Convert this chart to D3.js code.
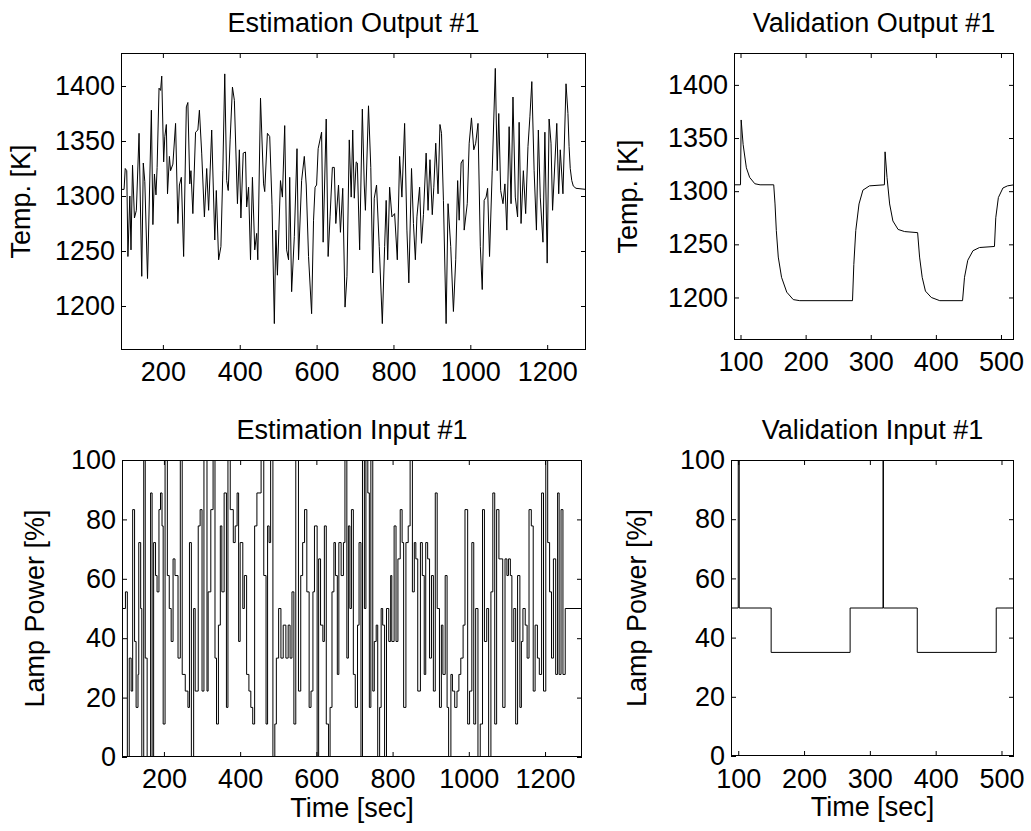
<!DOCTYPE html>
<html><head><meta charset="utf-8">
<script src="https://cdn.jsdelivr.net/npm/d3@7"></script>
<style>
body{margin:0;background:#fff}
svg{display:block}
text{font-family:"Liberation Sans",Arial,Helvetica,sans-serif;fill:#000}
</style>
</head><body>
<svg id="chart" width="1031" height="831"></svg>
<script>
// ---------- data ----------
const estOutT = [91,99,102,106,109,114,117,121,126,131,138,145,149,153,160,170,174,178,182,185,190,194,197,202,205,209,212,217,220,226,233,239,243,248,254,261,265,270,273,278,285,291,295,301,308,314,319,327,335,339,345,351,356,361,366,370,375,381,386,394,399,403,409,415,418,423,428,433,439,444,447,454,462,465,472,478,484,490,494,498,506,511,517,522,527,530,535,542,549,553,561,568,573,579,587,592,596,600,604,613,617,625,630,635,641,646,650,657,662,668,674,679,685,690,694,698,703,706,712,719,724,727,735,741,746,750,756,763,771,777,781,785,790,796,803,810,816,822,829,835,840,847,852,857,861,868,873,878,885,890,895,901,905,910,916,921,925,930,937,942,949,956,962,967,971,976,981,984,992,997,1003,1009,1014,1020,1026,1031,1036,1041,1045,1050,1057,1065,1070,1074,1079,1085,1090,1095,1101,1106,1111,1117,1123,1127,1132,1138,1144,1150,1155,1160,1166,1172,1177,1182,1189,1194,1200,1205,1210,1214,1220,1225,1230,1234,1241,1249,1254,1257,1260,1264,1268,1275,1301];
const estOutV = [1306,1306,1325,1323,1245,1300,1251,1328,1280,1287,1357,1227,1330,1313,1225,1378,1274,1320,1301,1326,1398,1396,1409,1331,1354,1365,1302,1336,1323,1329,1366,1275,1310,1317,1245,1381,1385,1311,1323,1284,1358,1360,1378,1339,1281,1325,1287,1360,1260,1305,1242,1254,1323,1411,1314,1305,1351,1399,1387,1293,1342,1280,1339,1340,1290,1308,1242,1317,1251,1266,1242,1389,1311,1304,1357,1354,1292,1184,1269,1228,1314,1299,1364,1251,1242,1317,1213,1263,1343,1242,1314,1336,1310,1245,1193,1278,1308,1310,1343,1358,1258,1370,1245,1281,1326,1326,1275,1310,1267,1307,1199,1227,1351,1299,1360,1298,1331,1330,1251,1379,1310,1287,1382,1326,1230,1298,1310,1254,1184,1254,1296,1242,1308,1281,1284,1242,1336,1299,1366,1269,1221,1325,1275,1242,1281,1308,1257,1283,1339,1287,1333,1283,1308,1348,1302,1365,1357,1296,1184,1293,1254,1195,1242,1314,1278,1330,1333,1269,1293,1348,1371,1342,1348,1366,1254,1215,1296,1299,1307,1245,1323,1416,1323,1375,1305,1293,1311,1269,1363,1293,1390,1299,1281,1367,1275,1323,1284,1345,1372,1404,1323,1269,1360,1299,1258,1358,1239,1370,1348,1287,1330,1366,1302,1342,1302,1402,1375,1345,1325,1314,1309,1307,1306];

const estInT = [
  90,99,104,109,114,118,123,127,132,134,
  139,142,147,151,156,165,169,173,178,182,
  187,191,195,198,203,209,214,219,224,229,
  237,243,248,256,263,267,272,278,282,290,
  295,300,305,313,316,323,329,334,338,343,
  348,352,358,364,368,374,382,387,392,396,
  400,407,411,417,423,428,433,438,444,455,
  462,468,472,476,480,486,491,495,501,507,
  513,520,526,531,536,541,546,553,559,564,
  569,575,581,586,591,595,602,606,611,617,
  621,626,632,636,641,646,650,655,659,665,
  671,675,680,684,688,692,697,702,708,
  712,717,721,726,730,735,739,743,748,752,
  757,761,766,770,774,779,784,790,795,798,
  804,809,814,820,825,829,835,841,846,852,
  857,861,866,873,878,883,887,892,897,902,
  907,912,917,923,928,932,938,943,947,953,
  957,963,969,974,979,985,990,997,1002,1008,
  1013,1018,1024,1030,1036,1041,1047,1052,1058,1063,
  1068,1073,1079,1089,1095,1100,1104,1109,1113,1118,
  1123,1128,1134,1138,1142,1148,1153,1158,1164,1169,
  1174,1180,1185,1191,1196,1202,1207,1212,1217,1222,
  1228,1233,1237,1242,1247,1253];
const estInV = [
  50,55.6,0,33.3,22.2,83.3,38.9,16.7,27.8,72.2,
  50,0,100,33.3,0,88.9,0,72.2,61.1,55.6,
  83.3,88.9,77.8,11.1,100,61.1,50,38.9,66.7,61.1,
  33.3,100,27.8,22.2,16.7,72.2,0,50,22.2,77.8,
  83.3,22.2,100,22.2,55.6,83.3,100,33.3,11.1,44.4,
  77.8,55.6,88.9,16.7,100,83.3,72.2,77.8,88.9,38.9,
  72.2,50,61.1,27.8,22.2,16.7,11.1,77.8,88.9,100,
  61.1,11.1,77.8,72.2,100,0,11.1,33.3,50,33.3,
  44.4,33.3,44.4,33.3,55.6,11.1,100,22.2,61.1,72.2,
  83.3,55.6,16.7,22.2,55.6,77.8,0,66.7,44.4,38.9,
  77.8,11.1,0,16.7,55.6,72.2,61.1,27.8,72.2,61.1,
  72.2,100,33.3,77.8,50,83.3,27.8,16.7,44.4,
  72.2,0,100,50,100,88.9,16.7,100,22.2,38.9,
  44.4,0,16.7,50,44.4,0,50,38.9,61.1,38.9,
  77.8,38.9,66.7,83.3,72.2,16.7,72.2,77.8,100,55.6,
  72.2,66.7,22.2,72.2,61.1,27.8,72.2,66.7,33.3,61.1,
  22.2,88.9,50,16.7,44.4,27.8,61.1,16.7,0,27.8,
  22.2,16.7,22.2,27.8,33.3,44.4,83.3,11.1,22.2,72.2,
  11.1,50,0,11.1,83.3,38.9,50,0,55.6,88.9,
  11.1,83.3,66.7,16.7,66.7,61.1,66.7,61.1,38.9,50,
  11.1,61.1,16.7,38.9,50,44.4,33.3,83.3,77.8,22.2,
  44.4,33.3,27.8,88.9,22.2,100,72.2,55.6,33.3,66.7,
  27.8,88.9,27.8,83.3,27.8,50];
const estInEnd = 1297;

const valOutT = [90,100,101,104,109,114,122,130,151,153,155,158,163,171,181,191,272,274,277,282,288,298,321,322,325,329,334,342,352,372,375,379,384,393,406,441,444,449,457,467,490,492,496,503,510,520];
const valOutV = [1306,1306,1367,1344,1322,1313,1307,1306,1306,1288,1263,1238,1219,1205,1198,1197,1197,1231,1263,1288,1301,1305,1306,1337,1313,1288,1272,1264,1262,1261,1238,1219,1206,1200,1197,1197,1219,1235,1244,1247,1248,1275,1294,1303,1305,1306];

const valInT = [89,100,101.5,150,270,320,320.6,372,492];
const valInV = [50,100,50,35,50,100,50,35,50];
const valInEnd = 520;

const tempTicks = [1200,1250,1300,1350,1400];
const powerTicks = [0,20,40,60,80,100];
const estTimeTicks = [200,400,600,800,1000,1200];
const valTimeTicks = [100,200,300,400,500];

const titles = ["Estimation Output #1","Validation Output #1","Estimation Input #1","Validation Input #1"];
const yLabels = ["Temp. [K]","Lamp Power [%]"];
const xLabel = "Time [sec]";

// ---------- drawing ----------
const svg = d3.select("#chart");
const FONT = '"Liberation Sans",Arial,Helvetica,sans-serif';
const FS = 27;
const fmt = d3.format("d");

function panel(cfg){
  const {x0,x1,y0,y1,xd,yd,xt,yt,t,v,step,endT,title,ylab,ylabX,xlab,id,xpad} = cfg;
  const x = d3.scaleLinear().domain(xd).range([x0,x1]);
  const y = d3.scaleLinear().domain(yd).range([y1,y0]);
  const g = svg.append("g");
  g.append("clipPath").attr("id",id).append("rect")
    .attr("x",x0).attr("y",y0).attr("width",x1-x0).attr("height",y1-y0);

  let pts = t.map((d,i)=>[d,v[i]]);
  if(step) pts.push([endT, v[v.length-1]]);
  const line = d3.line().x(d=>x(d[0])).y(d=>y(d[1]));
  if(step) line.curve(d3.curveStepAfter);
  g.append("path").attr("d",line(pts)).attr("fill","none")
    .attr("stroke","#000").attr("stroke-width",1).attr("clip-path",`url(#${id})`);

  const tk = 5;
  const ax = (sel)=>sel.call(s=>s.select(".domain").remove())
      .attr("font-family",FONT).attr("font-size",FS);
  g.append("g").attr("transform",`translate(0,${y1})`)
    .call(d3.axisBottom(x).tickValues(xt).tickFormat(fmt).tickSizeInner(-tk).tickSizeOuter(0).tickPadding(xpad||12)).call(ax);
  g.append("g").attr("transform",`translate(0,${y0})`)
    .call(d3.axisTop(x).tickValues(xt).tickSizeInner(-tk).tickSizeOuter(0).tickFormat("")).call(ax);
  g.append("g").attr("transform",`translate(${x0},0)`)
    .call(d3.axisLeft(y).tickValues(yt).tickFormat(fmt).tickSizeInner(-tk).tickSizeOuter(0).tickPadding(6)).call(ax);
  g.append("g").attr("transform",`translate(${x1},0)`)
    .call(d3.axisRight(y).tickValues(yt).tickSizeInner(-tk).tickSizeOuter(0).tickFormat("")).call(ax);
  g.selectAll(".tick line").attr("stroke","#000");

  g.append("rect").attr("x",x0+0.5).attr("y",y0+0.5).attr("width",x1-x0-1).attr("height",y1-y0-1)
    .attr("fill","none").attr("stroke","#000").attr("stroke-width",1);

  g.append("text").attr("x",(x0+x1)/2).attr("y",y0-21).attr("text-anchor","middle")
    .attr("font-size",FS).text(title);
  g.append("text").attr("transform",`translate(${ylabX},${(y0+y1)/2}) rotate(-90)`)
    .attr("text-anchor","middle").attr("font-size",FS).text(ylab);
  if(xlab) g.append("text").attr("x",(x0+x1)/2).attr("y",y1+60).attr("text-anchor","middle")
    .attr("font-size",FS).text(xlab);
}

panel({id:"c1",x0:121,x1:586,y0:53,y1:350,xd:[91,1301],yd:[1160,1430],xt:estTimeTicks,yt:tempTicks,
  t:estOutT,v:estOutV,step:false,title:titles[0],ylab:yLabels[0],ylabX:30});
panel({id:"c2",x0:734,x1:1014,y0:53,y1:340,xd:[90,520],yd:[1160,1430],xt:valTimeTicks,yt:tempTicks,
  t:valOutT,v:valOutV,step:false,title:titles[1],ylab:yLabels[0],ylabX:637});
panel({id:"c3",x0:122,x1:582,y0:460,y1:757,xd:[90,1297],yd:[0,100],xt:estTimeTicks,yt:powerTicks,
  t:estInT,v:estInV,step:true,endT:estInEnd,title:titles[2],ylab:yLabels[1],ylabX:44,xlab:xLabel});
panel({id:"c4",x0:731,x1:1014,y0:460,y1:756,xd:[89,519],yd:[0,100],xt:valTimeTicks,yt:powerTicks,
  t:valInT,v:valInV,step:true,endT:valInEnd,title:titles[3],ylab:yLabels[1],ylabX:646,xlab:xLabel,xpad:13});
</script>
</body></html>
